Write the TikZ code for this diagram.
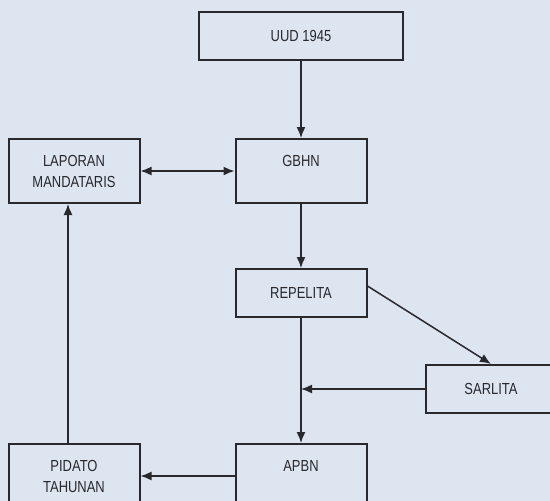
\documentclass[tikz,border=0pt]{standalone}
\usepackage{fontspec}
\setmainfont{Liberation Sans}[FakeStretch=0.81]
\usetikzlibrary{arrows.meta}
\usetikzlibrary{positioning}
\definecolor{scanblue}{RGB}{221,229,241}
\definecolor{inkgray}{RGB}{40,40,45}

\begin{document}
\begin{tikzpicture}[->,>={Latex[length=11pt,width=9pt]},line width=1.5pt,
                    draw=inkgray,
                    box/.style={rectangle,draw=inkgray,line width=2pt,fill=scanblue,
                      minimum width=131pt,align=center,text=inkgray,
                      font=\fontsize{16}{21}\selectfont}]

  \useasboundingbox (0,0) rectangle (550pt,-501pt);
  \clip (0,0) rectangle (550pt,-501pt);
  \fill[-,scanblue] (0,0) rectangle (550pt,-501pt);

  \node[box,minimum width=204pt,minimum height=48pt] (uud) at (301pt,-36pt) {UUD 1945};
  \node[box,minimum height=64pt] (gbhn) [below=77pt of uud] {GBHN\\\mbox{}};
  \node[box,minimum height=64pt] (lapor) [left=94pt of gbhn] {LAPORAN\\MANDATARIS};
  \node[box,minimum height=48pt] (repelita) [below=64pt of gbhn] {REPELITA};
  \node[box,minimum height=48pt] (sarlita) [below=46pt of repelita,xshift=190pt] {SARLITA};
  \node[box,minimum height=64pt] (apbn) [below=125pt of repelita] {APBN\\\mbox{}};
  \node[box,minimum height=64pt] (pidato) [left=94pt of apbn] {PIDATO\\TAHUNAN};
  \coordinate (join) at (sarlita.west -| repelita.south);

  \draw (uud) -- (gbhn);
  \draw[<->] (lapor) -- (gbhn);
  \draw (gbhn) -- (repelita);
  \draw ([yshift=7pt]repelita.east) -- (sarlita.north);
  \draw (sarlita) -- (join);
  \draw (repelita) -- (apbn);
  \draw (apbn) -- (pidato);
  \draw ([xshift=-6pt]pidato.north) -- ([xshift=-6pt]lapor.south);
\end{tikzpicture}
\end{document}
